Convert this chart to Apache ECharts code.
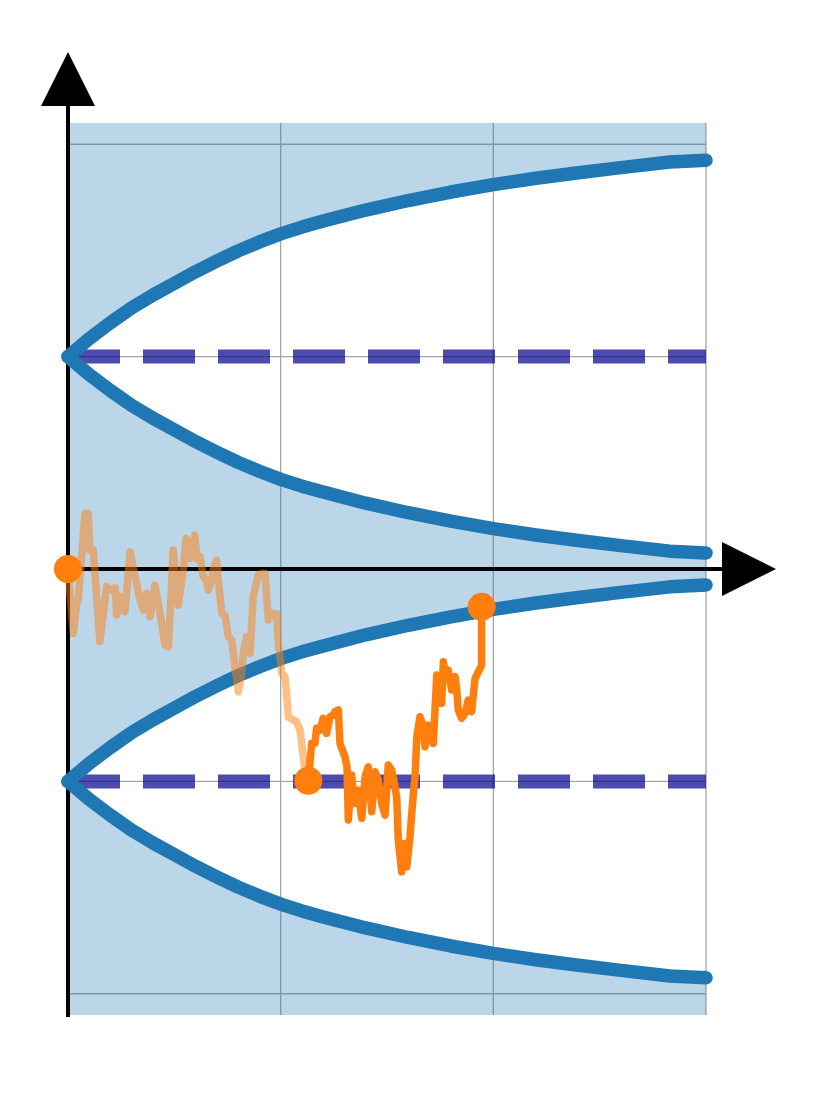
<!DOCTYPE html>
<html>
<head>
<meta charset="utf-8">
<script src="https://cdn.jsdelivr.net/npm/echarts@6/dist/echarts.min.js"></script>
<style>
html,body{margin:0;padding:0;background:#ffffff;}
#chart{width:816px;height:1097px;}
</style>
</head>
<body>
<div id="chart"></div>
<script>
// ---- data ----
const xRange = [0, 3];
const yRange = [-2.1, 2.1];
const xGridTicks = [1, 2, 3];
const yGridTicks = [-2, -1, 1, 2];
const funnelCenters = [1, -1];

const boundaryX = [0, 0.1, 0.2, 0.3, 0.4, 0.5, 0.6, 0.7, 0.8, 0.9, 1.0, 1.1, 1.2, 1.4, 1.6, 1.8, 2.0, 2.2, 2.4, 2.6, 2.83, 3.0];
const boundaryHalfWidth = [0, 0.085, 0.16, 0.23, 0.29, 0.345, 0.40, 0.45, 0.498, 0.54, 0.578, 0.61, 0.638, 0.69, 0.735, 0.775, 0.81, 0.84, 0.866, 0.89, 0.916, 0.925];

const walkBeforeX = [0, 0.025, 0.041, 0.048, 0.080, 0.095, 0.103, 0.119, 0.150, 0.182, 0.197, 0.221, 0.229, 0.245, 0.268, 0.292, 0.315, 0.339, 0.354, 0.370, 0.386, 0.409, 0.433, 0.456, 0.472, 0.495, 0.503, 0.519, 0.542, 0.555, 0.574, 0.582, 0.597, 0.605, 0.621, 0.636, 0.652, 0.660, 0.676, 0.683, 0.699, 0.707, 0.723, 0.738, 0.754, 0.770, 0.785, 0.801, 0.817, 0.824, 0.840, 0.856, 0.871, 0.895, 0.911, 0.926, 0.942, 0.965, 0.981, 0.989, 1.005, 1.020, 1.028, 1.036, 1.059, 1.075, 1.091, 1.099, 1.114, 1.130];
const walkBeforeY = [0, -0.303, -0.160, -0.146, 0.262, 0.262, 0.089, 0.089, -0.342, -0.083, -0.099, -0.089, -0.217, -0.130, -0.201, 0.081, -0.036, -0.146, -0.193, -0.114, -0.225, -0.075, -0.209, -0.358, -0.366, 0.089, 0.080, -0.170, -0.005, 0.145, 0.050, 0.105, 0.160, 0.050, 0.058, -0.036, -0.052, -0.099, -0.052, -0.005, 0.042, -0.052, -0.209, -0.217, -0.319, -0.334, -0.460, -0.578, -0.491, -0.397, -0.319, -0.397, -0.130, -0.028, -0.020, -0.020, -0.240, -0.209, -0.209, -0.350, -0.491, -0.507, -0.585, -0.696, -0.711, -0.719, -0.758, -0.821, -0.947, -0.997];

const walkAfterX = [1.130, 1.146, 1.161, 1.169, 1.185, 1.200, 1.208, 1.216, 1.232, 1.247, 1.255, 1.271, 1.279, 1.302, 1.312, 1.318, 1.334, 1.340, 1.350, 1.364, 1.381, 1.397, 1.412, 1.428, 1.444, 1.458, 1.475, 1.491, 1.506, 1.522, 1.538, 1.546, 1.553, 1.569, 1.585, 1.593, 1.608, 1.624, 1.632, 1.640, 1.655, 1.669, 1.679, 1.694, 1.710, 1.718, 1.734, 1.749, 1.757, 1.765, 1.773, 1.788, 1.804, 1.820, 1.828, 1.835, 1.851, 1.867, 1.882, 1.898, 1.914, 1.930, 1.945, 1.945, 1.945];
const walkAfterY = [-0.997, -0.821, -0.821, -0.750, -0.758, -0.703, -0.703, -0.774, -0.696, -0.688, -0.672, -0.664, -0.821, -0.884, -0.931, -1.182, -0.970, -1.041, -1.104, -1.041, -1.174, -0.978, -0.931, -1.143, -0.955, -0.994, -1.104, -1.159, -0.923, -0.947, -1.025, -1.080, -1.276, -1.426, -1.292, -1.402, -1.261, -1.057, -0.978, -0.790, -0.696, -0.735, -0.837, -0.735, -0.743, -0.821, -0.499, -0.507, -0.633, -0.437, -0.485, -0.476, -0.570, -0.507, -0.570, -0.664, -0.703, -0.680, -0.617, -0.672, -0.515, -0.484, -0.452, -0.240, -0.178];

// ---- derived series ----
const zip = (xs, ys) => xs.map((x, i) => [x, ys[i]]);
const branch = (center, sign) => boundaryX.map((x, i) => [x, center + sign * boundaryHalfWidth[i]]);
const upperTop = branch(funnelCenters[0], 1);
const upperBottom = branch(funnelCenters[0], -1);
const lowerTop = branch(funnelCenters[1], 1);
const lowerBottom = branch(funnelCenters[1], -1);
const walkBefore = zip(walkBeforeX, walkBeforeY);
const walkAfter = zip(walkAfterX, walkAfterY);
const markers = [walkBefore[0], walkBefore[walkBefore.length - 1], walkAfter[walkAfter.length - 1]];

const BLUE = '#1f77b4';
const ORANGE = '#ff7f0e';

const chart = echarts.init(document.getElementById('chart'), null, {renderer: 'canvas'});

function gridRender(params, api) {
  const children = [];
  xGridTicks.forEach(t => {
    const a = api.coord([t, yRange[0]]), b = api.coord([t, yRange[1]]);
    children.push({type: 'line', shape: {x1: a[0], y1: a[1], x2: b[0], y2: b[1]},
      style: {stroke: '#a6a6a6', lineWidth: 1.3}});
  });
  yGridTicks.forEach(t => {
    const a = api.coord([xRange[0], t]), b = api.coord([xRange[1], t]);
    children.push({type: 'line', shape: {x1: a[0], y1: a[1], x2: b[0], y2: b[1]},
      style: {stroke: '#a6a6a6', lineWidth: 1.3}});
  });
  return {type: 'group', children};
}

function fillRender(params, api) {
  const c = p => api.coord(p);
  const top = upperTop.map(c).concat([c([xRange[1], yRange[1]]), c([xRange[0], yRange[1]])]);
  const mid = upperBottom.map(c).concat(lowerTop.slice().reverse().map(c));
  const bot = lowerBottom.map(c).concat([c([xRange[1], yRange[0]]), c([xRange[0], yRange[0]])]);
  const st = {fill: 'rgba(31,119,180,0.3)'};
  return {type: 'group', children: [
    {type: 'polygon', shape: {points: top}, style: st},
    {type: 'polygon', shape: {points: mid}, style: st},
    {type: 'polygon', shape: {points: bot}, style: st}
  ]};
}

function axesRender(params, api) {
  const yBottom = api.coord([0, yRange[0]]);
  const yTopEdge = api.coord([0, yRange[1]]);
  const yBase = yTopEdge[1] - 17;
  const yTip = yBase - 54;
  const origin = api.coord([0, 0]);
  const xRightEdge = api.coord([xRange[1], 0]);
  const xBase = xRightEdge[0] + 16;
  const xTip = xBase + 54;
  const hw = 27;
  return {type: 'group', children: [
    {type: 'line', shape: {x1: yBottom[0], y1: yBottom[1], x2: yBottom[0], y2: yBase},
      style: {stroke: '#000', lineWidth: 4, lineCap: 'square'}},
    {type: 'polygon', shape: {points: [[yBottom[0], yTip], [yBottom[0] - hw, yBase], [yBottom[0] + hw, yBase]]},
      style: {fill: '#000'}},
    {type: 'line', shape: {x1: origin[0], y1: origin[1], x2: xBase, y2: origin[1]},
      style: {stroke: '#000', lineWidth: 4}},
    {type: 'polygon', shape: {points: [[xTip, origin[1]], [xBase, origin[1] - hw], [xBase, origin[1] + hw]]},
      style: {fill: '#000'}}
  ]};
}

const curveStyle = {color: BLUE, width: 13.5, cap: 'round', join: 'round'};
const curveSeries = [upperTop, upperBottom, lowerTop, lowerBottom].map(d => ({
  type: 'line', data: d, showSymbol: false, symbol: 'none', smooth: false, clip: false, silent: true, z: 5,
  lineStyle: curveStyle, emphasis: {disabled: true}
}));

const dashSeries = funnelCenters.map(cy => ({
  type: 'line', data: [[xRange[0], cy], [xRange[1], cy]], symbol: 'none', clip: false, silent: true, z: 4,
  lineStyle: {color: 'rgba(0,0,139,0.7)', width: 14, type: [52, 23], cap: 'butt'},
  emphasis: {disabled: true}
}));

const option = {
  animation: false,
  backgroundColor: '#ffffff',
  grid: {left: 68, right: 110, top: 123, bottom: 82, containLabel: false},
  xAxis: {type: 'value', min: xRange[0], max: xRange[1], show: false},
  yAxis: {type: 'value', min: yRange[0], max: yRange[1], show: false},
  series: [
    {type: 'custom', data: [[0, 0]], renderItem: gridRender, silent: true, clip: false, z: 1},
    {type: 'custom', data: [[0, 0]], renderItem: fillRender, silent: true, clip: false, z: 2},
    {type: 'custom', data: [[0, 0]], renderItem: axesRender, silent: true, clip: false, z: 3},
    ...dashSeries,
    ...curveSeries,
    {type: 'line', data: walkBefore, symbol: 'none', clip: false, silent: true, z: 6,
      lineStyle: {color: 'rgba(255,127,14,0.5)', width: 7.5, join: 'round', cap: 'round'}, emphasis: {disabled: true}},
    {type: 'line', data: walkAfter, symbol: 'none', clip: false, silent: true, z: 7,
      lineStyle: {color: ORANGE, width: 7.5, join: 'round', cap: 'round'}, emphasis: {disabled: true}},
    {type: 'scatter', data: markers, symbol: 'circle', symbolSize: 28, clip: false, silent: true, z: 8,
      itemStyle: {color: ORANGE, opacity: 1}, emphasis: {disabled: true}}
  ]
};
chart.setOption(option);
</script>
</body>
</html>
